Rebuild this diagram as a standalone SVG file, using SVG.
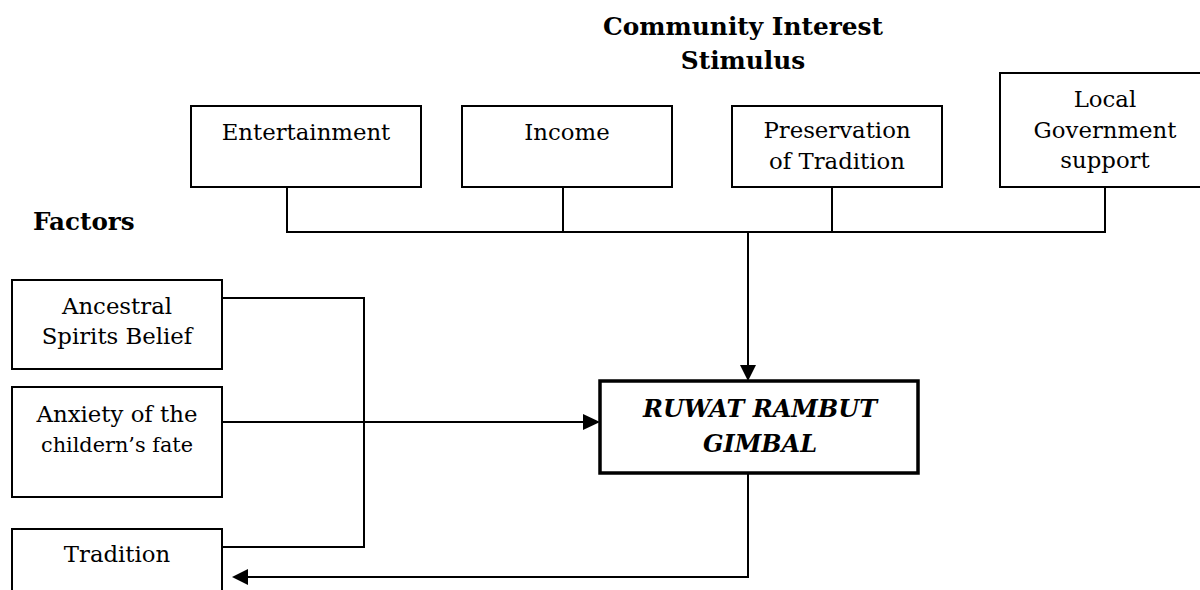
<svg xmlns="http://www.w3.org/2000/svg" width="1200" height="590" viewBox="0 0 1200 590">
<style>
.box{fill:#fff;stroke:#000;stroke-width:2}
.main{fill:#fff;stroke:#000;stroke-width:3.5}
.t{font-family:"DejaVu Serif","Liberation Serif",serif;font-size:22.8px;text-anchor:middle;fill:#000}
.s{font-size:20.8px}
.h{font-family:"DejaVu Serif","Liberation Serif",serif;font-weight:bold;font-size:24.8px;fill:#000}
.m{font-family:"DejaVu Serif","Liberation Serif",serif;font-weight:bold;font-style:italic;font-size:24px;text-anchor:middle;fill:#000}
.c{fill:none;stroke:#000;stroke-width:2}
</style>
<defs>
<marker id="ah" viewBox="0 0 10 10" refX="10" refY="5" markerWidth="8" markerHeight="8" markerUnits="userSpaceOnUse" orient="auto">
<path d="M0,0 L10,5 L0,10 Z" fill="#000"/>
</marker>
</defs>
<rect width="1200" height="590" fill="#fff"/>
<g id="title">
<text class="h" x="743" y="35" text-anchor="middle">Community Interest</text>
<text class="h" x="743" y="69" text-anchor="middle">Stimulus</text>
</g>
<g id="factors-label"><text class="h" x="33" y="230" style="font-size:24.6px">Factors</text></g>
<g id="connectors">
<path class="c" d="M287,187 V232 H1105 V187"/>
<path class="c" d="M563,187 V232"/>
<path class="c" d="M832,187 V232"/>
<path class="c" d="M748,232 V366"/>
<path d="M740,365 L756,365 L748,381 Z" fill="#000"/>
<path class="c" d="M222,298 H364 V547 H222"/>
<path class="c" d="M222,422 H584"/>
<path d="M583,414 L600,422 L583,430 Z" fill="#000"/>
<path class="c" d="M748,473 V577 H247"/>
<path d="M248,569 L232,577 L248,585 Z" fill="#000"/>
</g>
<g id="entertainment">
<rect class="box" x="191" y="106" width="230" height="81"/>
<text class="t" x="306" y="140">Entertainment</text>
</g>
<g id="income">
<rect class="box" x="462" y="106" width="210" height="81"/>
<text class="t" x="567" y="140">Income</text>
</g>
<g id="preservation">
<rect class="box" x="732" y="106" width="210" height="81"/>
<text class="t" x="837" y="138">Preservation</text>
<text class="t" x="837" y="169">of Tradition</text>
</g>
<g id="local-government">
<rect class="box" x="1000" y="73" width="212" height="114"/>
<text class="t" x="1105" y="107">Local</text>
<text class="t" x="1105" y="138">Government</text>
<text class="t" x="1105" y="168">support</text>
</g>
<g id="ancestral">
<rect class="box" x="12" y="280" width="210" height="89"/>
<text class="t" x="117" y="314">Ancestral</text>
<text class="t" x="117" y="344">Spirits Belief</text>
</g>
<g id="anxiety">
<rect class="box" x="12" y="387" width="210" height="110"/>
<text class="t" x="117" y="422">Anxiety of the</text>
<text class="t s" x="117" y="452">childern’s fate</text>
</g>
<g id="tradition">
<rect class="box" x="12" y="529" width="210" height="80"/>
<text class="t" x="117" y="562">Tradition</text>
</g>
<g id="ruwat">
<rect class="main" x="600" y="381" width="318" height="92"/>
<text class="m" x="760" y="417">RUWAT RAMBUT</text>
<text class="m" x="760" y="452">GIMBAL</text>
</g>
</svg>
